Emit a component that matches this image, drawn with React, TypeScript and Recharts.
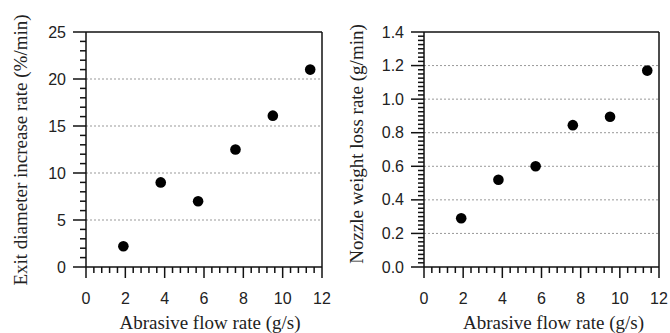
import React from "react";
import { ScatterChart, Scatter, XAxis, YAxis, ReferenceLine, Label } from "recharts";

const flowRate = [1.9, 3.8, 5.7, 7.6, 9.5, 11.4];
const exitDiameterRate = [2.2, 9.0, 7.0, 12.5, 16.1, 21.0];
const nozzleWeightLoss = [0.29, 0.52, 0.6, 0.845, 0.895, 1.17];

const xMajorTicks = [0, 2, 4, 6, 8, 10, 12];
const leftYMajorTicks = [0, 5, 10, 15, 20, 25];
const rightYMajorTicks = [0, 0.2, 0.4, 0.6, 0.8, 1.0, 1.2, 1.4];
const leftGrid = [5, 10, 15, 20];
const rightGrid = [0.2, 0.4, 0.6, 0.8, 1.0, 1.2];

const xLabel = "Abrasive flow rate (g/s)";
const leftYLabel = "Exit diameter increase rate (%/min)";
const rightYLabel = "Nozzle weight loss rate (g/min)";

const leftData = flowRate.map((x, i) => ({ x, y: exitDiameterRate[i] }));
const rightData = flowRate.map((x, i) => ({ x, y: nozzleWeightLoss[i] }));

function subdivide(majors: number[], parts: number): number[] {
  const out: number[] = [];
  for (let i = 0; i < majors.length - 1; i++) {
    const a = majors[i];
    const b = majors[i + 1];
    for (let k = 0; k < parts; k++) {
      out.push(Math.round((a + ((b - a) * k) / parts) * 100000) / 100000);
    }
  }
  out.push(majors[majors.length - 1]);
  return out;
}

const isIn = (v: number, arr: number[]) => arr.some((m) => Math.abs(m - v) < 1e-6);

const SANS = "'Liberation Sans', Arial, sans-serif";
const SERIF = "'Liberation Serif', 'Times New Roman', serif";
const TICK_FS = 16;
const LABEL_FS = 19;

const makeXTick = (majors: number[]) => (props: any) => {
  const { x, y, payload } = props;
  const v = payload.value;
  const major = isIn(v, majors);
  return (
    <g>
      <line x1={x} y1={y} x2={x} y2={y + (major ? 11 : 6)} stroke="#111" strokeWidth={1.5} />
      {major && (
        <text x={x} y={y + 31} textAnchor="middle" dominantBaseline="central" fontFamily={SANS} fontSize={TICK_FS} fill="#222">
          {v}
        </text>
      )}
    </g>
  );
};

const makeYTick = (majors: number[], fmt: (v: number) => string) => (props: any) => {
  const { x, y, payload } = props;
  const v = payload.value;
  const major = isIn(v, majors);
  return (
    <g>
      <line x1={x} y1={y} x2={x - (major ? 13 : 6)} y2={y} stroke="#111" strokeWidth={1.5} />
      {major && (
        <text x={x - 20} y={y} textAnchor="end" dominantBaseline="central" fontFamily={SANS} fontSize={TICK_FS} fill="#222">
          {fmt(v)}
        </text>
      )}
    </g>
  );
};

const Dot = (props: any) => <circle cx={props.cx} cy={props.cy} r={5.3} fill="#000" />;

const xLabelContent = (dx: number) => (props: any) => {
  const vb = props.viewBox;
  return (
    <text x={vb.x + vb.width / 2 + dx} y={vb.y + 62} textAnchor="middle" fontFamily={SERIF} fontSize={LABEL_FS} fill="#222">
      {xLabel}
    </text>
  );
};

const yLabelContent = (text: string, cx: number, cy: number) => () => (
  <text
    x={cx}
    y={cy}
    transform={`rotate(-90, ${cx}, ${cy})`}
    textAnchor="middle"
    dominantBaseline="central"
    fontFamily={SERIF}
    fontSize={LABEL_FS}
    fill="#222"
  >
    {text}
  </text>
);

const xTicksAll = subdivide(xMajorTicks, 5);
const leftYTicksAll = subdivide(leftYMajorTicks, 5);
const rightYTicksAll = subdivide(rightYMajorTicks, 8);

export default function App() {
  return (
    <div style={{ position: "absolute", left: 0, top: 0, width: 670, height: 333, background: "#fff", display: "flex" }}>
      <ScatterChart width={335} height={333} margin={{ top: 32, right: 13, bottom: 0, left: 0 }}>
        <XAxis
          type="number"
          dataKey="x"
          domain={[0, 12]}
          ticks={xTicksAll}
          interval={0}
          height={66}
          tickSize={0}
          tickMargin={0}
          tickLine={false}
          axisLine={{ stroke: "#111", strokeWidth: 1.5 }}
          tick={makeXTick(xMajorTicks)}
        >
          <Label content={xLabelContent(6)} />
        </XAxis>
        <YAxis
          type="number"
          dataKey="y"
          domain={[0, 25]}
          ticks={leftYTicksAll}
          interval={0}
          width={86}
          tickSize={0}
          tickMargin={0}
          tickLine={false}
          axisLine={{ stroke: "#111", strokeWidth: 1.5 }}
          tick={makeYTick(leftYMajorTicks, (v) => String(v))}
        >
          <Label content={yLabelContent(leftYLabel, 20, 150)} />
        </YAxis>
        {leftGrid.map((g) => (
          <ReferenceLine key={g} y={g} stroke="#999" strokeDasharray="2 2" strokeWidth={1} />
        ))}
        <ReferenceLine y={25} stroke="#111" strokeWidth={1.5} />
        <ReferenceLine x={12} stroke="#111" strokeWidth={1.5} />
        <Scatter data={leftData} shape={Dot} isAnimationActive={false} />
      </ScatterChart>
      <ScatterChart width={335} height={333} margin={{ top: 32, right: 11, bottom: 0, left: 0 }}>
        <XAxis
          type="number"
          dataKey="x"
          domain={[0, 12]}
          ticks={xTicksAll}
          interval={0}
          height={66}
          tickSize={0}
          tickMargin={0}
          tickLine={false}
          axisLine={{ stroke: "#111", strokeWidth: 1.5 }}
          tick={makeXTick(xMajorTicks)}
        >
          <Label content={xLabelContent(12)} />
        </XAxis>
        <YAxis
          type="number"
          dataKey="y"
          domain={[0, 1.4]}
          ticks={rightYTicksAll}
          interval={0}
          width={89}
          tickSize={0}
          tickMargin={0}
          tickLine={false}
          axisLine={{ stroke: "#111", strokeWidth: 1.5 }}
          tick={makeYTick(rightYMajorTicks, (v) => v.toFixed(1))}
        >
          <Label content={yLabelContent(rightYLabel, 21.5, 144)} />
        </YAxis>
        {rightGrid.map((g) => (
          <ReferenceLine key={g} y={g} stroke="#999" strokeDasharray="2 2" strokeWidth={1} />
        ))}
        <ReferenceLine y={1.4} stroke="#111" strokeWidth={1.5} />
        <ReferenceLine x={12} stroke="#111" strokeWidth={1.5} />
        <Scatter data={rightData} shape={Dot} isAnimationActive={false} />
      </ScatterChart>
    </div>
  );
}
